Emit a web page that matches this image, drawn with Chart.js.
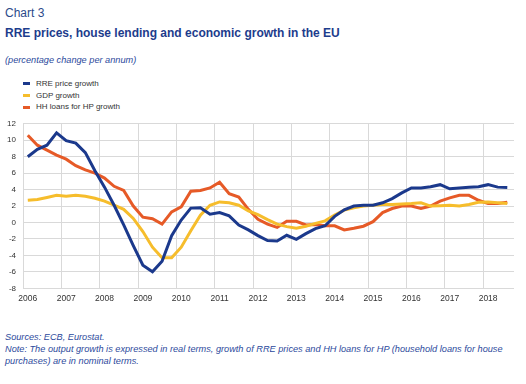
<!DOCTYPE html>
<html>
<head>
<meta charset="utf-8">
<script src="https://cdn.jsdelivr.net/npm/chart.js@4/dist/chart.umd.min.js"></script>
<style>
  body { margin: 0; width: 526px; height: 384px; background: #fff; position: relative; overflow: hidden;
         font-family: "Liberation Sans", Arial, sans-serif; }
  .t { position: absolute; left: 5px; white-space: nowrap; line-height: 1; }
  #chartNo { top: 7px; font-size: 12px; color: #2b4a8a; }
  #title { top: 26.5px; font-size: 12px; font-weight: bold; color: #1d3c8c; }
  #sub { top: 55.7px; font-size: 9.2px; font-style: italic; color: #2c4a9c; }
  #legend { position: absolute; left: 23px; top: 78px; font-size: 8px; color: #333; }
  #legend div { height: 11.7px; line-height: 11.7px; white-space: nowrap; }
  #legend span { display: inline-block; width: 7px; height: 3px; margin-right: 6px; vertical-align: middle; }
  #notes { position: absolute; left: 5px; top: 330.8px; font-size: 9.2px; line-height: 12px; font-style: italic; color: #2c4a9c; white-space: nowrap; }
  #wrap { position: absolute; left: 0; top: 112px; width: 526px; height: 196px; }
</style>
</head>
<body>
<div class="t" id="chartNo">Chart 3</div>
<div class="t" id="title">RRE prices, house lending and economic growth in the EU</div>
<div class="t" id="sub">(percentage change per annum)</div>
<div id="legend"></div>
<div id="wrap"><canvas id="myChart"></canvas></div>
<div id="notes">Sources: ECB, Eurostat.<br>Note: The output growth is expressed in real terms, growth of RRE prices and HH loans for HP (household loans for house<br>purchases) are in nominal terms.</div>

<script>
// quarterly data, 2006 Q1 to 2018 Q3
var years = [2006, 2007, 2008, 2009, 2010, 2011, 2012, 2013, 2014, 2015, 2016, 2017, 2018];

var rrePrice = [8.0, 8.9, 9.4, 10.9, 9.95, 9.65, 8.5, 6.3, 4.3, 2.1,
  -0.3, -2.8, -5.2, -6.0, -4.7, -1.6, 0.3, 1.75, 1.8, 1.0,
  1.2, 0.8, -0.3, -0.9, -1.6, -2.2, -2.25, -1.55, -2.05, -1.35,
  -0.75, -0.4, 0.75, 1.55, 2.0, 2.1, 2.1, 2.4, 2.9, 3.6,
  4.2, 4.2, 4.35, 4.6, 4.1, 4.2, 4.3, 4.35, 4.6, 4.3, 4.25];

var gdp = [2.7, 2.8, 3.05, 3.3, 3.2, 3.3, 3.2, 2.95, 2.6, 2.1,
  1.6, 0.5, -1.1, -3.0, -4.3, -4.3, -3.0, -1.0, 0.9, 2.1,
  2.5, 2.4, 2.1, 1.4, 0.95, 0.35, -0.2, -0.5, -0.7, -0.45,
  -0.1, 0.2, 0.9, 1.5, 1.8, 2.0, 2.1, 2.2, 2.2, 2.25,
  2.3, 2.4, 2.0, 2.05, 2.1, 2.0, 2.2, 2.45, 2.5, 2.4, 2.3];

var hhLoans = [10.6, 9.4, 8.8, 8.2, 7.7, 6.9, 6.4, 6.0, 5.4, 4.4,
  3.9, 2.0, 0.65, 0.45, -0.2, 1.3, 1.9, 3.8, 3.9, 4.2,
  4.9, 3.5, 3.1, 1.6, 0.4, -0.2, -0.6, 0.15, 0.15, -0.3,
  -0.25, -0.4, -0.4, -0.9, -0.7, -0.45, 0.1, 1.2, 1.7, 2.0,
  2.0, 1.7, 2.0, 2.6, 3.0, 3.3, 3.3, 2.7, 2.3, 2.3, 2.45];

var seriesNames = ['RRE price growth', 'GDP growth', 'HH loans for HP growth'];
var seriesColors = ['#1b398c', '#f6bd2c', '#e65a27'];

// x is the quarter index, year gridlines sit half a quarter before each Q1
function toPoints(arr) {
    var pts = [];
    for (var i = 0; i < arr.length; i++) {
        pts.push({ x: i, y: arr[i] });
    }
    return pts;
}

function makeSet(idx, arr) {
    return {
        label: seriesNames[idx],
        data: toPoints(arr),
        borderColor: seriesColors[idx],
        backgroundColor: seriesColors[idx],
        borderWidth: 3,
        pointRadius: 0,
        tension: 0,
        fill: false
    };
}

var config = {
    type: 'line',
    data: {
        datasets: [makeSet(0, rrePrice), makeSet(1, gdp), makeSet(2, hhLoans)]
    },
    options: {
        responsive: true,
        maintainAspectRatio: false,
        animation: false,
        layout: { padding: { top: 10.7, right: 12, left: 0, bottom: 0 } },
        plugins: {
            legend: { display: false },
            tooltip: { enabled: false }
        },
        scales: {
            x: {
                type: 'linear',
                min: -0.5,
                max: 50.7,
                afterBuildTicks: function (scale) {
                    scale.ticks = years.map(function (y, k) { return { value: -0.5 + 4 * k }; });
                },
                afterFit: function (scale) { scale.height = 19.7; },
                ticks: {
                    autoSkip: false,
                    maxRotation: 0,
                    padding: 5,
                    labelOffset: 4.8,
                    color: '#333',
                    font: { size: 8.5, family: '"Liberation Sans", Arial' },
                    callback: function (value) { return String(years[Math.round((value + 0.5) / 4)]); }
                },
                grid: { color: '#d9d9d9', lineWidth: 1, drawTicks: false },
                border: { display: false }
            },
            y: {
                min: -8,
                max: 12,
                afterFit: function (scale) { scale.width = 23; },
                ticks: {
                    stepSize: 2,
                    padding: 7,
                    color: '#333',
                    font: { size: 8, family: '"Liberation Sans", Arial' }
                },
                grid: { color: '#d9d9d9', lineWidth: 1, drawTicks: false },
                border: { display: false }
            }
        }
    }
};

var myChart = new Chart(document.getElementById('myChart'), config);

// legend as a vertical list
var legendHtml = '';
for (var k = 0; k < seriesNames.length; k++) {
    legendHtml += '<div><span style="background:' + seriesColors[k] + '"></span>' + seriesNames[k] + '</div>';
}
document.getElementById('legend').innerHTML = legendHtml;
</script>
</body>
</html>
